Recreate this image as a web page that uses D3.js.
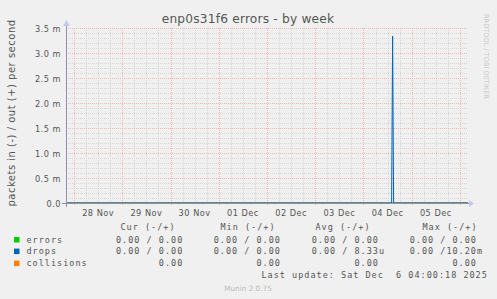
<!DOCTYPE html>
<html><head><meta charset="utf-8">
<script src="https://cdn.jsdelivr.net/npm/d3@7"></script>
<style>
body{margin:0;background:#f0f0f0;}
svg{display:block;}
text{white-space:pre;}
</style>
</head><body>
<svg id="c" width="497" height="299"></svg>
<script>
// ---------- data ----------
const title = "enp0s31f6 errors - by week";
const yLabel = "packets in (-) / out (+) per second";
const sideLabel = "RRDTOOL / TOBI OETIKER";
const versionLabel = "Munin 2.0.75";
const lastUpdate = "Last update: Sat Dec  6 04:00:18 2025";
const endTime = "2025-12-06T04:00:18";
const spanSeconds = 720000;

const yTicks = [0, 0.0005, 0.001, 0.0015, 0.002, 0.0025, 0.003, 0.0035];
const yTickLabels = ["0.0", "0.5 m", "1.0 m", "1.5 m", "2.0 m", "2.5 m", "3.0 m", "3.5 m"];
const dayTicks = ["2025-11-28", "2025-11-29", "2025-11-30", "2025-12-01", "2025-12-02", "2025-12-03", "2025-12-04", "2025-12-05", "2025-12-06"];
const dayLabels = ["28 Nov", "29 Nov", "30 Nov", "01 Dec", "02 Dec", "03 Dec", "04 Dec", "05 Dec"];

const seriesNames = ["errors", "drops", "collisions"];
const seriesColors = ["#00cc00", "#0066b3", "#ff8000"];

// sampled values (per second) — everything is zero except the drops(out) spike
const errorsTimes = ["2025-11-27T20:00", "2025-12-06T04:00"];
const errorsValues = [0, 0];
const dropsOutTimes = ["2025-11-27T20:00", "2025-12-04T14:00", "2025-12-04T14:30", "2025-12-04T15:00", "2025-12-06T04:00"];
const dropsOutValues = [0, 0, 0.00334, 0, 0];
const collisionsTimes = ["2025-11-27T20:00", "2025-12-06T04:00"];
const collisionsValues = [0, 0];

const legendHeaders = ["Cur (-/+)", "Min (-/+)", "Avg (-/+)", "Max (-/+)"];
const curValues = ["0.00 / 0.00", "0.00 / 0.00", "0.00"];
const minValues = ["0.00 / 0.00", "0.00 / 0.00", "0.00"];
const avgValues = ["0.00 / 0.00", "0.00 / 8.33u", "0.00"];
const maxValues = ["0.00 / 0.00", "0.00 /10.20m", "0.00"];

// ---------- drawing ----------
const svg = d3.select("#c");
const parseFull = d3.timeParse("%Y-%m-%dT%H:%M:%S");
const parseMin = d3.timeParse("%Y-%m-%dT%H:%M");
const parseDay = d3.timeParse("%Y-%m-%d");
const tEnd = parseFull(endTime);
const tStart = new Date(tEnd.getTime() - spanSeconds * 1000);

const X0 = 66, X1 = 468, Y0 = 203, YT = 28;
const x = d3.scaleTime().domain([tStart, tEnd]).range([X0, X1]);
const y = d3.scaleLinear().domain([0, 0.0035]).range([Y0, YT]);

svg.append("rect").attr("width", 497).attr("height", 299).attr("fill", "#f0f0f0");

const minorColor = "#d6d6d6", majorColor = "#f2b4b4";
const grid = svg.append("g").attr("shape-rendering", "crispEdges");
// minor horizontal
d3.range(0, 36).forEach(i => {
  const v = i * 0.0001;
  if (i % 5 === 0) return;
  grid.append("line").attr("x1", X0).attr("x2", X1).attr("y1", Math.round(y(v)) + 0.5).attr("y2", Math.round(y(v)) + 0.5)
    .attr("stroke", minorColor).attr("stroke-dasharray", "1,1");
});
// minor vertical (every 6h)
d3.timeHour.every(6).range(tStart, tEnd).forEach(t => {
  if (t.getHours() === 0) return;
  const xx = Math.round(x(t)) + 0.5;
  grid.append("line").attr("x1", xx).attr("x2", xx).attr("y1", YT).attr("y2", Y0)
    .attr("stroke", minorColor).attr("stroke-dasharray", "1,1");
});
// major horizontal
yTicks.forEach(v => {
  const yy = Math.round(y(v)) + 0.5;
  grid.append("line").attr("x1", X0).attr("x2", X1).attr("y1", yy).attr("y2", yy)
    .attr("stroke", majorColor).attr("stroke-dasharray", "1,1");
});
// major vertical
dayTicks.map(parseDay).filter(t => t >= tStart && t <= tEnd).forEach(t => {
  const xx = Math.round(x(t)) + 0.5;
  grid.append("line").attr("x1", xx).attr("x2", xx).attr("y1", YT).attr("y2", Y0 + 3)
    .attr("stroke", majorColor).attr("stroke-dasharray", "1,1");
});

// series
const line = d3.line().x(d => x(d[0])).y(d => y(d[1]));
const mk = (ts, vs) => ts.map((t, i) => [parseMin(t), vs[i]]);
svg.append("path").datum(mk(errorsTimes, errorsValues)).attr("d", line).attr("fill", "none").attr("stroke", seriesColors[0]);
svg.append("path").datum(mk(collisionsTimes, collisionsValues)).attr("d", line).attr("fill", "none").attr("stroke", seriesColors[2]);
svg.append("path").datum(mk(dropsOutTimes, dropsOutValues)).attr("d", line).attr("fill", "none").attr("stroke", seriesColors[1]).attr("stroke-width", 1);

// axes
const axisColor = "#9090b0", arrowColor = "#c0c8f8";
svg.append("line").attr("x1", X0 - 4).attr("x2", X1 + 1).attr("y1", Y0 + 0.5).attr("y2", Y0 + 0.5).attr("stroke", axisColor).attr("shape-rendering", "crispEdges");
svg.append("line").attr("x1", X0 + 0.5).attr("x2", X0 + 0.5).attr("y1", Y0 + 4).attr("y2", YT - 4).attr("stroke", axisColor).attr("shape-rendering", "crispEdges");
svg.append("path").attr("d", `M${X1 + 1},${Y0 - 3} L${X1 + 6},${Y0 + 0.5} L${X1 + 1},${Y0 + 4} Z`).attr("fill", arrowColor);
svg.append("path").attr("d", `M${X0 - 3},${YT - 2} L${X0 + 0.5},${YT - 8} L${X0 + 4},${YT - 2} Z`).attr("fill", arrowColor);

// y tick labels
const tickFont = "DejaVu Sans";
svg.append("g").selectAll("text").data(yTicks).join("text")
  .attr("x", 61).attr("y", d => y(d) + 3.5).attr("text-anchor", "end")
  .attr("font-family", tickFont).attr("font-size", 8.2).attr("letter-spacing", 0.5).attr("fill", "#555")
  .text((d, i) => yTickLabels[i]);

// x tick labels (centered at noon)
svg.append("g").selectAll("text").data(dayLabels).join("text")
  .attr("x", (d, i) => x(d3.timeHour.offset(parseDay(dayTicks[i]), 12)))
  .attr("y", 216).attr("text-anchor", "middle")
  .attr("font-family", tickFont).attr("font-size", 8.2).attr("letter-spacing", 0.5).attr("fill", "#555")
  .text(d => d);

// title
svg.append("text").attr("x", 248).attr("y", 23).attr("text-anchor", "middle")
  .attr("font-family", tickFont).attr("font-size", 12.2).attr("letter-spacing", 0.2).attr("fill", "#555").text(title);

// y label
svg.append("text").attr("transform", "translate(15,113) rotate(-90)").attr("text-anchor", "middle")
  .attr("font-family", tickFont).attr("font-size", 10).attr("letter-spacing", 0.5).attr("fill", "#555").text(yLabel);

// side label
svg.append("text").attr("transform", "translate(484,14) rotate(90)").attr("text-anchor", "start")
  .attr("font-family", tickFont).attr("font-size", 6.6).attr("fill", "#c8c8c8").text(sideLabel);

// legend
const mono = "DejaVu Sans Mono";
const lg = svg.append("g").attr("font-family", mono).attr("font-size", 8.5).attr("letter-spacing", 1.0).attr("fill", "#555");
const headerX = [148, 248, 343, 450];
legendHeaders.forEach((h, i) => lg.append("text").attr("x", headerX[i]).attr("y", 230).attr("text-anchor", "middle").text(h));
const rowY = [242.7, 254.3, 266.3];
const colEnd = [189.4, 287.1, 385.1, 483.1];
const cols = [curValues, minValues, avgValues, maxValues];
seriesNames.forEach((n, r) => {
  lg.append("rect").attr("x", 14).attr("y", rowY[r] - 5.7).attr("width", 5.5).attr("height", 5.5).attr("fill", seriesColors[r]);
  lg.append("text").attr("x", 26.5).attr("y", rowY[r]).text(n);
  cols.forEach((c, ci) => {
    const s = c[r];
    const padded = /[a-zA-Z]$/.test(s) ? s : s + " ";
    lg.append("text").attr("x", colEnd[ci]).attr("y", rowY[r]).attr("text-anchor", "end").text(padded);
  });
});
lg.append("text").attr("x", 261.5).attr("y", 278.3).text(lastUpdate);

svg.append("text").attr("x", 248).attr("y", 290.5).attr("text-anchor", "middle")
  .attr("font-family", tickFont).attr("font-size", 7.3).attr("fill", "#bbbbbb").text(versionLabel);
</script>
</body></html>
